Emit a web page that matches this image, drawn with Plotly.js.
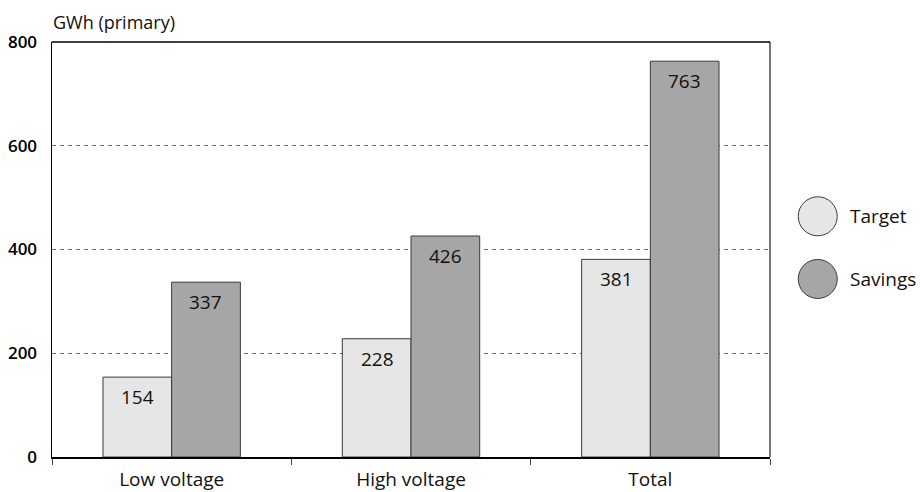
<!DOCTYPE html>
<html>
<head>
<meta charset="utf-8">
<script src="https://cdn.plot.ly/plotly-3.0.1.min.js"></script>
<style>
  html, body { margin: 0; padding: 0; background: #fff; }
  #chart { width: 922px; height: 492px; }
</style>
</head>
<body>
<div id="chart"></div>
<script>
// Primary energy: target vs. achieved savings, by grid level
const categories = ["Low voltage", "High voltage", "Total"];
const targetValues = [154, 228, 381];
const savingsValues = [337, 426, 763];
const seriesNames = ["Target", "Savings"];
const yTicks = [0, 200, 400, 600, 800];

const FONT = "Open Sans, DejaVu Sans, sans-serif";
const colors = ["#e6e6e6", "#a6a6a6"];
const outline = "#3a3a3a";

const traces = [targetValues, savingsValues].map((vals, i) => ({
  type: "bar",
  name: seriesNames[i],
  x: categories,
  y: vals,
  marker: { color: colors[i], line: { color: outline, width: 1 } },
  showlegend: false,
  hoverinfo: "x+y+name"
}));

// value labels sit just inside the top of each bar
const barOffset = 34;
const annotations = [];
[targetValues, savingsValues].forEach((vals, i) => {
  vals.forEach((v, j) => {
    annotations.push({
      x: categories[j], y: v, xref: "x", yref: "y",
      text: String(v), showarrow: false,
      xshift: i === 0 ? -barOffset : barOffset,
      yshift: -20,
      font: { family: FONT, size: 19, color: "#111" }
    });
  });
});

// unit label above the value axis
annotations.push({
  xref: "paper", yref: "paper", x: 0, y: 1, xanchor: "left", yanchor: "middle",
  yshift: 20, xshift: -1,
  text: "GWh (primary)", showarrow: false,
  font: { family: FONT, size: 18, color: "#111" }
});

// legend: large outlined circles with labels to the right
const shapes = [];
const legendY = [0.58, 0.429];
seriesNames.forEach((name, i) => {
  shapes.push({
    type: "circle", xref: "paper", yref: "paper",
    xsizemode: "pixel", ysizemode: "pixel",
    xanchor: 1.0665, yanchor: legendY[i],
    x0: -19.5, x1: 19.5, y0: -19.5, y1: 19.5,
    fillcolor: colors[i], line: { color: outline, width: 1 }
  });
  annotations.push({
    xref: "paper", yref: "paper", x: 1.0665, y: legendY[i],
    xshift: 30, xanchor: "left", yanchor: "middle",
    text: name, showarrow: false,
    font: { family: FONT, size: 19, color: "#111" }
  });
});

// right frame edge in grey
shapes.push({
  type: "line", xref: "paper", yref: "paper",
  x0: 1, x1: 1, y0: 0, y1: 1,
  line: { color: "#777", width: 2 }
});
// top frame edge in black
shapes.push({
  type: "line", xref: "paper", yref: "paper",
  x0: 0, x1: 1, y0: 1, y1: 1,
  line: { color: "#000", width: 1.5 }
});

const layout = {
  width: 922, height: 492,
  margin: { l: 52, r: 152, t: 42, b: 35 },
  paper_bgcolor: "#fff", plot_bgcolor: "#fff",
  barmode: "group", bargap: 0.426, bargroupgap: 0,
  font: { family: FONT, color: "#111" },
  xaxis: {
    type: "category",
    showline: true, linecolor: "#000", linewidth: 1.5,
    ticks: "outside", tickson: "boundaries", ticklen: 6, tickcolor: "#444", tickwidth: 1,
    ticklabelstandoff: 5,
    showgrid: false, zeroline: false,
    tickfont: { family: FONT, size: 19, color: "#111" },
    fixedrange: true
  },
  yaxis: {
    range: [0, 800],
    tickvals: yTicks,
    ticktext: yTicks.map(String),
    showline: true, linecolor: "#000", linewidth: 1.5,
    ticks: "", ticklabelstandoff: 10,
    showgrid: true, gridcolor: "#666", griddash: "4px,4px", gridwidth: 1,
    zeroline: false,
    tickfont: { family: FONT, size: 17, color: "#000", weight: 600 },
    fixedrange: true
  },
  annotations: annotations,
  shapes: shapes
};

Plotly.newPlot("chart", traces, layout, { displayModeBar: false, staticPlot: true });
</script>
</body>
</html>
